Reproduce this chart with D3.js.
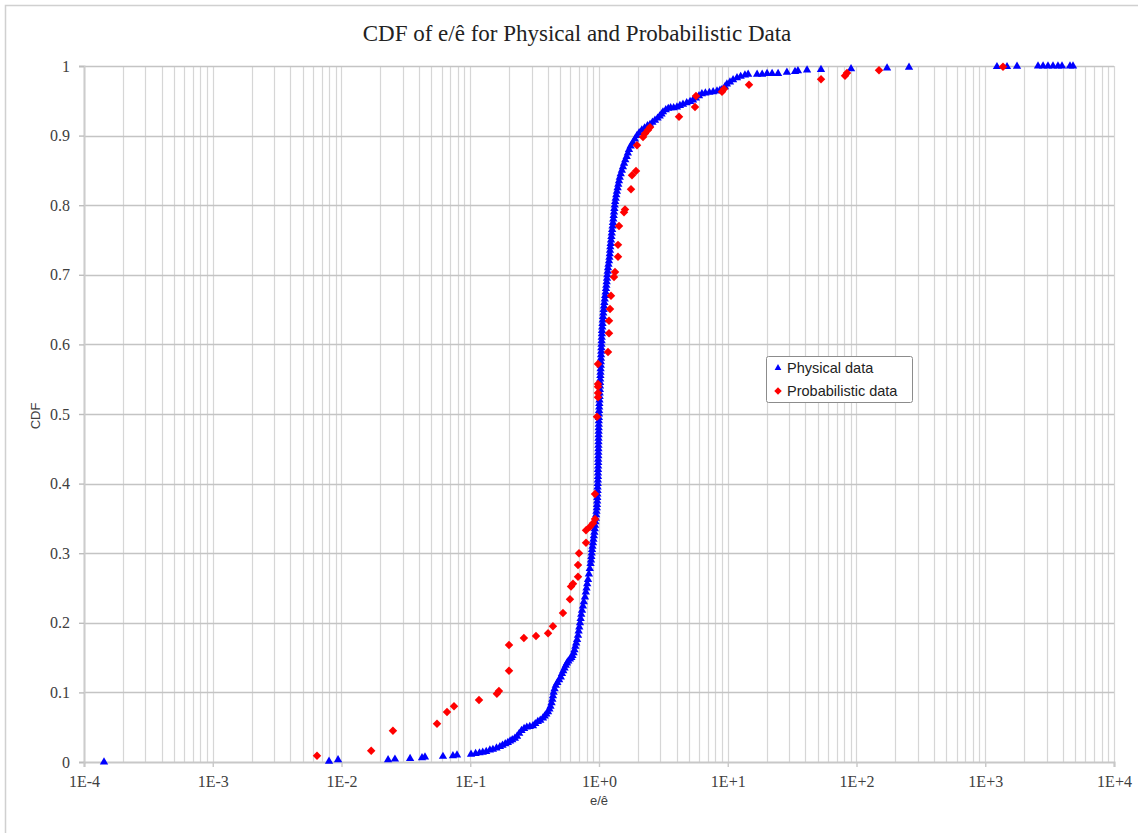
<!DOCTYPE html>
<html>
<head>
<meta charset="utf-8">
<script src="https://cdn.jsdelivr.net/npm/d3@7"></script>
<style>
  html, body { margin: 0; padding: 0; background: #fff; }
  svg { display: block; }
</style>
</head>
<body>
<svg id="chart" width="1138" height="833"></svg>
<script>
// ---- Data ---------------------------------------------------------------
const chartTitle = "CDF of e/ê for Physical and Probabilistic Data";
const xAxisTitle = "e/ê";
const yAxisTitle = "CDF";
const seriesNames = ["Physical data", "Probabilistic data"];

const xTickValues = [1e-4, 1e-3, 1e-2, 1e-1, 1e0, 1e1, 1e2, 1e3, 1e4];
const xTickLabels = ["1E-4", "1E-3", "1E-2", "1E-1", "1E+0", "1E+1", "1E+2", "1E+3", "1E+4"];
const yTickValues = [0, 0.1, 0.2, 0.3, 0.4, 0.5, 0.6, 0.7, 0.8, 0.9, 1];
const yTickLabels = ["0", "0.1", "0.2", "0.3", "0.4", "0.5", "0.6", "0.7", "0.8", "0.9", "1"];

// Physical data: [e/ê, CDF]
const physicalData = [
  [0.000143,0.000],
  [0.0080,0.001],[0.0094,0.003],
  [0.0230,0.003],[0.0260,0.004],[0.0341,0.005],[0.0422,0.006],[0.0445,0.007],
  [0.0614,0.008],[0.0734,0.009],[0.0789,0.010],
  [0.1014,0.011],[0.110,0.012],[0.118,0.013],[0.125,0.014],[0.133,0.015],[0.142,0.017],[0.150,0.018],
  [0.160,0.020],[0.170,0.022],[0.178,0.024],[0.187,0.026],[0.196,0.028],[0.204,0.030],[0.212,0.032],
  [0.222,0.034],[0.231,0.037],[0.240,0.041],[0.250,0.045],[0.262,0.048],[0.275,0.050],[0.290,0.051],
  [0.307,0.052],[0.320,0.055],[0.335,0.058],[0.350,0.060],[0.367,0.063],[0.378,0.066],[0.390,0.069],
  [0.402,0.072],[0.412,0.076],[0.420,0.080],[0.428,0.085],[0.434,0.090],[0.439,0.095],[0.444,0.100],
  [0.452,0.105],[0.462,0.110],[0.475,0.114],[0.490,0.118],[0.505,0.122],[0.516,0.127],[0.528,0.131],
  [0.540,0.135],[0.552,0.139],[0.564,0.142],[0.578,0.145],[0.595,0.148],[0.610,0.150],[0.622,0.153],
  [0.635,0.157],[0.645,0.161],[0.655,0.166],[0.665,0.171],[0.676,0.176],[0.687,0.182],[0.695,0.188],
  [0.703,0.194],[0.712,0.200],[0.720,0.206],[0.728,0.212],[0.738,0.218],[0.750,0.224],[0.762,0.230],
  [0.778,0.237],[0.790,0.244],[0.800,0.250],[0.810,0.256],[0.822,0.262],[0.835,0.270],[0.848,0.278],
  [0.860,0.285],[0.867,0.290],[0.872,0.295],[0.878,0.300],[0.883,0.305],[0.890,0.310],[0.898,0.315],
  [0.905,0.320],[0.912,0.325],[0.920,0.330],[0.927,0.335],[0.931,0.340],[0.938,0.345],[0.945,0.350],
  [0.950,0.355],[0.956,0.360],[0.962,0.365],[0.965,0.370],[0.968,0.375],[0.970,0.380],[0.972,0.385],
  [0.975,0.390],[0.975,0.395],[0.978,0.400],[0.980,0.405],[0.982,0.410],[0.982,0.415],[0.983,0.420],
  [0.985,0.425],[0.986,0.430],[0.986,0.435],[0.988,0.440],[0.988,0.445],[0.990,0.450],[0.990,0.455],
  [0.991,0.460],[0.992,0.465],[0.993,0.470],[0.994,0.475],[0.995,0.480],[0.996,0.485],[0.997,0.490],
  [0.998,0.495],[1.000,0.500],[1.002,0.505],[1.004,0.510],[1.006,0.515],[1.009,0.520],[1.011,0.525],
  [1.013,0.530],[1.015,0.535],[1.018,0.540],[1.020,0.545],[1.022,0.550],[1.025,0.555],[1.027,0.560],
  [1.029,0.565],[1.032,0.570],[1.034,0.575],[1.036,0.580],[1.038,0.585],[1.041,0.590],[1.043,0.595],
  [1.045,0.600],[1.048,0.605],[1.050,0.610],[1.053,0.615],[1.055,0.620],[1.060,0.625],[1.064,0.630],
  [1.069,0.635],[1.074,0.640],[1.080,0.645],[1.086,0.650],[1.092,0.655],[1.100,0.660],[1.108,0.665],
  [1.116,0.670],[1.125,0.675],[1.133,0.680],[1.140,0.685],[1.147,0.690],[1.154,0.695],[1.160,0.700],
  [1.168,0.705],[1.175,0.710],[1.185,0.715],[1.196,0.720],[1.205,0.725],[1.212,0.730],[1.218,0.735],
  [1.224,0.740],[1.232,0.745],[1.240,0.750],[1.248,0.755],[1.256,0.760],[1.265,0.765],[1.274,0.770],
  [1.283,0.775],[1.292,0.780],[1.300,0.785],[1.308,0.790],[1.316,0.795],[1.325,0.800],[1.335,0.805],
  [1.348,0.810],[1.362,0.815],[1.378,0.820],[1.395,0.825],[1.412,0.830],[1.430,0.835],[1.450,0.840],
  [1.475,0.845],[1.505,0.850],[1.535,0.855],[1.565,0.860],[1.600,0.865],[1.640,0.870],[1.675,0.875],
  [1.710,0.880],[1.760,0.885],[1.830,0.890],[1.900,0.895],[1.973,0.900],[2.050,0.904],[2.150,0.908],
  [2.260,0.911],[2.380,0.914],[2.490,0.916],[2.600,0.919],[2.720,0.922],[2.850,0.925],[2.960,0.928],
  [3.060,0.931],[3.140,0.934],[3.300,0.937],[3.450,0.939],[3.600,0.940],[3.800,0.940],[4.030,0.941],
  [4.250,0.943],[4.490,0.945],[4.800,0.947],[5.100,0.949],[5.370,0.951],[5.650,0.954],[5.980,0.957],
  [6.300,0.960],[6.700,0.961],[7.200,0.962],[7.700,0.963],[8.250,0.964],[8.700,0.965],[9.020,0.966],
  [9.500,0.970],[9.850,0.974],[10.40,0.977],[11.00,0.980],[11.80,0.983],[12.60,0.985],[13.60,0.987],
  [14.40,0.988],
  [16.9,0.988],[18.5,0.988],[20.2,0.989],[22.1,0.989],[24.6,0.989],[28.8,0.991],[33.3,0.992],
  [35.1,0.993],[41.3,0.994],[53.0,0.995],[90.7,0.996],[172.7,0.997],[255.8,0.998],
  [1233,0.999],[1476,0.999],[1765,0.9995],[2570,1],[2811,1],[3070,1],[3358,1],[3671,1],
  [3946,1],[4553,1],[4805,1]
];

// Probabilistic data: [e/ê, CDF]
const probabilisticData = [
  [0.00645,0.009],[0.0170,0.016],[0.0251,0.045],[0.0552,0.055],[0.0660,0.072],[0.0748,0.080],
  [0.117,0.089],[0.161,0.098],[0.167,0.102],[0.200,0.131],[0.200,0.168],[0.261,0.178],[0.324,0.181],
  [0.402,0.185],[0.439,0.195],[0.525,0.214],[0.595,0.234],[0.606,0.252],[0.628,0.256],[0.687,0.266],
  [0.687,0.283],[0.699,0.300],[0.793,0.315],[0.793,0.333],[0.851,0.338],[0.898,0.343],[0.931,0.349],
  [0.931,0.385],[0.965,0.496],[0.982,0.524],[0.982,0.530],[0.982,0.539],[0.982,0.543],[0.982,0.572],
  [1.175,0.589],[1.196,0.616],[1.196,0.634],[1.218,0.651],[1.239,0.670],[1.308,0.697],[1.331,0.704],
  [1.405,0.726],[1.405,0.743],[1.430,0.770],[1.564,0.790],[1.592,0.794],[1.773,0.823],[1.805,0.843],
  [1.938,0.849],[1.973,0.886],[2.196,0.898],[2.276,0.903],[2.402,0.908],[2.490,0.912],[4.182,0.927],
  [5.568,0.941],[5.668,0.957],[9.019,0.963],[9.343,0.967],[14.62,0.973],[53.03,0.981],[81.40,0.986],
  [84.38,0.990],[149.5,0.994],[1374,0.999]
];

// ---- Layout -------------------------------------------------------------
const svg = d3.select("#chart");
const W = 1138, H = 833;
const plot = { left: 84, right: 1114, top: 66, bottom: 762 };
const serif = "'Liberation Serif', 'Times New Roman', serif";
const sans = "'Liberation Sans', Arial, sans-serif";

const x = d3.scaleLog().domain([1e-4, 1e4]).range([plot.left, plot.right]);
const y = d3.scaleLinear().domain([0, 1]).range([plot.bottom, plot.top]);

// chart frame
svg.append("rect")
  .attr("x", 5.5).attr("y", 5.5)
  .attr("width", W + 20).attr("height", H + 20)
  .attr("fill", "#fff").attr("stroke", "#d0d0d0").attr("stroke-width", 1.5);

// title
svg.append("text")
  .attr("x", 577).attr("y", 41)
  .attr("text-anchor", "middle")
  .attr("font-family", serif).attr("font-size", 23)
  .attr("fill", "#222")
  .text(chartTitle);

// vertical grid lines (every 1..9 × decade)
const gridX = x.ticks();
svg.append("g")
  .selectAll("line")
  .data(gridX)
  .join("line")
  .attr("x1", d => Math.round(x(d)) + 0.5).attr("x2", d => Math.round(x(d)) + 0.5)
  .attr("y1", plot.top).attr("y2", plot.bottom)
  .attr("stroke", "#d6d6d6").attr("stroke-width", 1.2);

// horizontal grid lines
svg.append("g")
  .selectAll("line")
  .data(yTickValues.slice(1))
  .join("line")
  .attr("x1", plot.left).attr("x2", plot.right)
  .attr("y1", d => Math.round(y(d)) + 0.5).attr("y2", d => Math.round(y(d)) + 0.5)
  .attr("stroke", "#c4c4c4").attr("stroke-width", 1.4);

// y axis
const yAxis = d3.axisLeft(y)
  .tickValues(yTickValues)
  .tickFormat((d, i) => yTickLabels[i])
  .tickSize(5).tickPadding(9);
const gy = svg.append("g").attr("transform", `translate(${plot.left},0)`).call(yAxis);
gy.select(".domain").attr("stroke", "#cccccc").attr("stroke-width", 2);
gy.selectAll(".tick line").attr("stroke", "#bdbdbd").attr("stroke-width", 1.4);
gy.selectAll(".tick text")
  .attr("font-family", serif).attr("font-size", 16).attr("fill", "#404040");

// x axis
const xAxis = d3.axisBottom(x)
  .tickValues(xTickValues)
  .tickFormat((d, i) => xTickLabels[i])
  .tickSize(5).tickPadding(9);
const gx = svg.append("g").attr("transform", `translate(0,${plot.bottom})`).call(xAxis);
gx.select(".domain").attr("stroke", "#c8c8c8").attr("stroke-width", 2);
gx.selectAll(".tick line").attr("stroke", "#c8c8c8").attr("stroke-width", 1.4);
gx.selectAll(".tick text")
  .attr("font-family", serif).attr("font-size", 16).attr("fill", "#404040");

// axis titles
svg.append("text")
  .attr("x", 599).attr("y", 805)
  .attr("text-anchor", "middle")
  .attr("font-family", sans).attr("font-size", 13).attr("fill", "#404040")
  .text(xAxisTitle);
svg.append("text")
  .attr("transform", "translate(40,416) rotate(-90)")
  .attr("text-anchor", "middle")
  .attr("font-family", sans).attr("font-size", 13).attr("fill", "#404040")
  .text(yAxisTitle);

// markers
const triangle = d3.symbol().type(d3.symbolTriangle).size(30);
const diamond = d3.symbol().type(d3.symbolDiamond2).size(46);

svg.append("g")
  .selectAll("path")
  .data(physicalData)
  .join("path")
  .attr("d", triangle)
  .attr("transform", d => `translate(${x(d[0])},${y(d[1])})`)
  .attr("fill", "#0000ff");

svg.append("g")
  .selectAll("path")
  .data(probabilisticData)
  .join("path")
  .attr("d", diamond)
  .attr("transform", d => `translate(${x(d[0])},${y(d[1])})`)
  .attr("fill", "#ff0000");

// legend
const lg = svg.append("g").attr("transform", "translate(766,356)");
lg.append("rect")
  .attr("x", 0.5).attr("y", 0.5).attr("width", 146).attr("height", 46)
  .attr("rx", 2)
  .attr("fill", "#fff").attr("stroke", "#8c8c8c").attr("stroke-width", 1);
lg.append("path").attr("d", d3.symbol().type(d3.symbolTriangle).size(20)).attr("transform", "translate(12,12)").attr("fill", "#0000ff");
lg.append("path").attr("d", d3.symbol().type(d3.symbolDiamond2).size(36)).attr("transform", "translate(12,35)").attr("fill", "#ff0000");
lg.append("text").attr("x", 21).attr("y", 16.5)
  .attr("font-family", sans).attr("font-size", 14.5).attr("fill", "#222")
  .text(seriesNames[0]);
lg.append("text").attr("x", 21).attr("y", 39.5)
  .attr("font-family", sans).attr("font-size", 14.5).attr("fill", "#222")
  .text(seriesNames[1]);
</script>
</body>
</html>
